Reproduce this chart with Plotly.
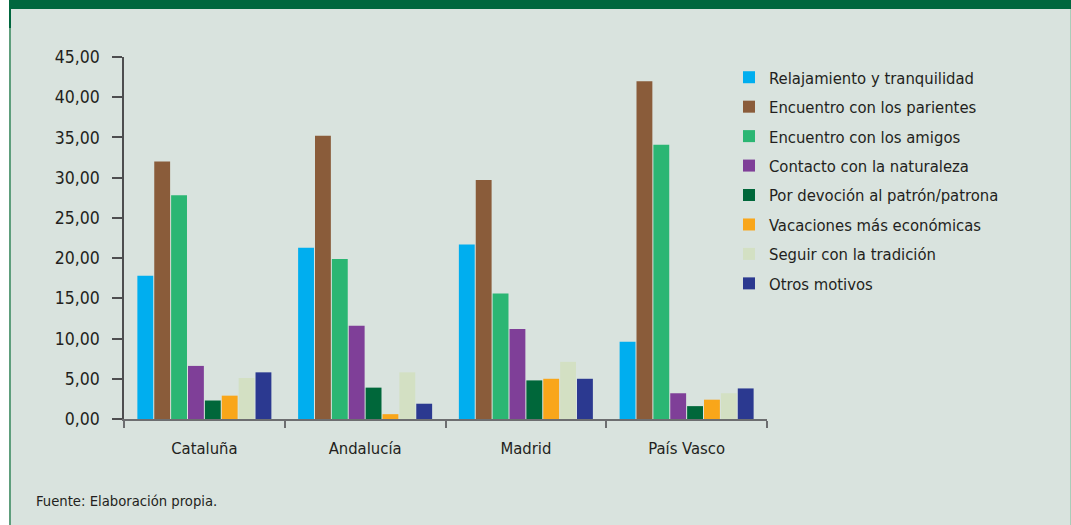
import plotly.graph_objects as go

regions = ["Cataluña", "Andalucía", "Madrid", "País Vasco"]
series_names = [
    "Relajamiento y tranquilidad",
    "Encuentro con los parientes",
    "Encuentro con los amigos",
    "Contacto con la naturaleza",
    "Por devoción al patrón/patrona",
    "Vacaciones más económicas",
    "Seguir con la tradición",
    "Otros motivos",
]
relajamiento = [17.8, 21.3, 21.7, 9.6]
parientes = [32.0, 35.2, 29.7, 42.0]
amigos = [27.8, 19.9, 15.6, 34.1]
naturaleza = [6.6, 11.6, 11.2, 3.2]
devocion = [2.3, 3.9, 4.8, 1.6]
economicas = [2.9, 0.6, 5.0, 2.4]
tradicion = [5.1, 5.8, 7.1, 3.2]
otros = [5.8, 1.9, 5.0, 3.8]
series_values = [relajamiento, parientes, amigos, naturaleza, devocion, economicas, tradicion, otros]
colors = ["#00AEEF", "#8A5C3A", "#2BB673", "#7F3F98", "#00673A", "#F9A61A", "#D3E0C3", "#2B3990"]
y_ticks = [0, 5, 10, 15, 20, 25, 30, 35, 40, 45]

W, H = 1071, 525
L, R, T, B = 124, 767, 57, 419.5
pw, ph = R - L, B - T

def px(x):
    return (x - L) / pw

def py(y):
    return (B - y) / ph

FONT = "DejaVu Sans Condensed, Liberation Sans Narrow, Arial Narrow, sans-serif"
TXT = "#231F20"

fig = go.Figure()
for i, (name, vals, col) in enumerate(zip(series_names, series_values, colors)):
    fig.add_trace(go.Bar(
        x=regions, y=vals, name=name, marker=dict(color=col, line=dict(width=0)),
        legendgroup=f"g{i}",
    ))

fig.update_layout(
    width=W, height=H,
    margin=dict(l=L, r=W - R, t=T, b=H - B, pad=0),
    paper_bgcolor="#FFFFFF",
    plot_bgcolor="rgba(0,0,0,0)",
    barmode="group", bargap=0.16, bargroupgap=0.06,
    separators=",.",
    font=dict(family=FONT, color=TXT),
    showlegend=True,
    legend=dict(
        x=px(729), y=py(60), xanchor="left", yanchor="top",
        bgcolor="rgba(0,0,0,0)", font=dict(size=16.5, family=FONT, color=TXT),
        tracegroupgap=5, traceorder="grouped", itemwidth=30,
    ),
    xaxis=dict(
        type="category", showgrid=False, showline=True, linecolor="#6d6e70", linewidth=1.5,
        ticks="outside", tickson="boundaries", ticklen=7, tickcolor="#6d6e70", tickwidth=1.5,
        tickfont=dict(size=16.5, family=FONT, color=TXT), ticklabelstandoff=13,
    ),
    yaxis=dict(
        range=[0, 45], tickvals=y_ticks, tickformat=".2f", showgrid=False, zeroline=False,
        showline=True, linecolor="#4d4d4f", linewidth=1.5,
        ticks="outside", ticklen=10, tickcolor="#4d4d4f", tickwidth=1.5,
        tickfont=dict(size=17.5, family=FONT, color=TXT), ticklabelstandoff=9,
    ),
    shapes=[
        dict(type="rect", xref="paper", yref="paper", x0=px(9), x1=px(W + 5), y0=py(H + 5), y1=py(0),
             fillcolor="#D9E3DE", line=dict(width=0), layer="below"),
        dict(type="rect", xref="paper", yref="paper", x0=px(9), x1=px(11), y0=py(H + 5), y1=py(0),
             fillcolor="#5E9E7C", line=dict(width=0), layer="below"),
        dict(type="rect", xref="paper", yref="paper", x0=px(9), x1=px(11), y0=py(28), y1=py(0),
             fillcolor="#00673E", line=dict(width=0), layer="below"),
        dict(type="rect", xref="paper", yref="paper", x0=px(1070), x1=px(1071), y0=py(H + 5), y1=py(0),
             fillcolor="#A9CDB9", line=dict(width=0), layer="below"),
        dict(type="rect", xref="paper", yref="paper", x0=px(9), x1=px(W + 5), y0=py(9), y1=py(-5),
             fillcolor="#00673E", line=dict(width=0), layer="below"),
    ],
    annotations=[
        dict(text="Fuente: Elaboración propia.", xref="paper", yref="paper", x=px(34), y=py(501),
             xanchor="left", yanchor="middle", showarrow=False,
             font=dict(size=14.7, family=FONT, color=TXT)),
    ],
)

fig.write_html(
    "out.html",
    config={"displayModeBar": False},
    post_script="document.body.style.margin='0';document.body.style.overflow='hidden';",
)
